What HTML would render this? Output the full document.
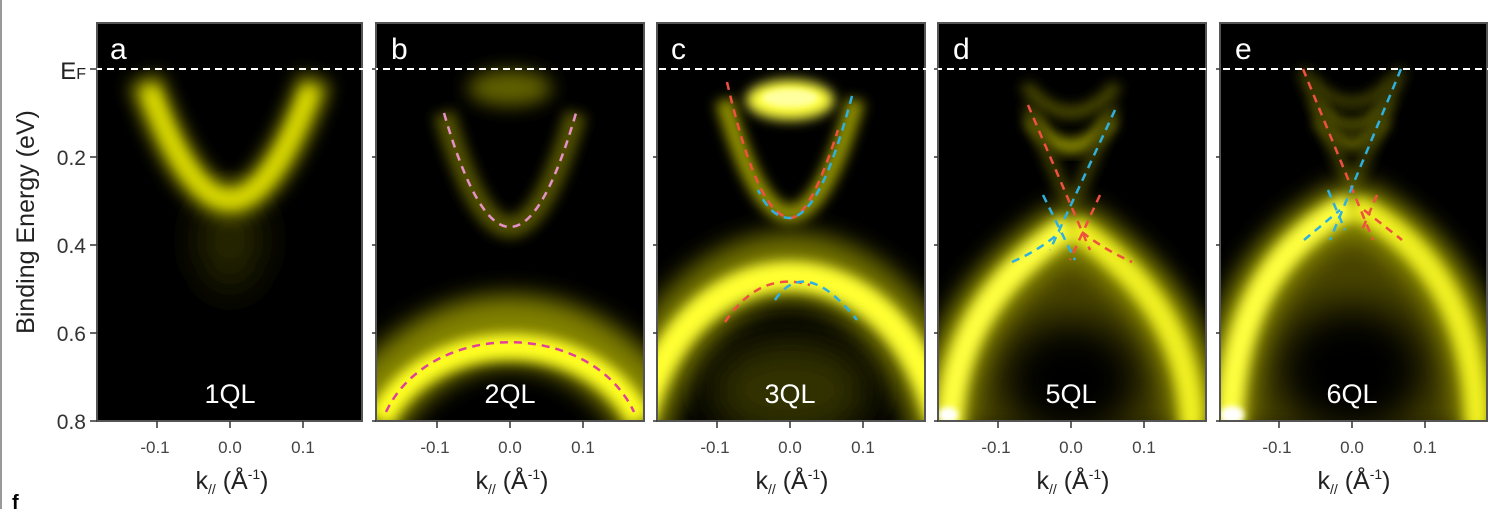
<!DOCTYPE html>
<html><head><meta charset="utf-8"><style>
html,body{margin:0;padding:0;background:#fff;}
svg{display:block;font-family:"Liberation Sans",sans-serif;}
</style></head><body>
<svg width="1497" height="509" viewBox="0 0 1497 509" xmlns="http://www.w3.org/2000/svg">
<defs>
<filter id="b3" x="-50%" y="-50%" width="200%" height="200%"><feGaussianBlur stdDeviation="3"/></filter>
<filter id="b6" x="-50%" y="-50%" width="200%" height="200%"><feGaussianBlur stdDeviation="6"/></filter>
<filter id="b9" x="-50%" y="-50%" width="200%" height="200%"><feGaussianBlur stdDeviation="9"/></filter>
<filter id="b12" x="-50%" y="-50%" width="200%" height="200%"><feGaussianBlur stdDeviation="12"/></filter>
<filter id="b20" x="-50%" y="-50%" width="200%" height="200%"><feGaussianBlur stdDeviation="20"/></filter>
<clipPath id="ca"><rect x="97" y="23" width="265" height="398"/></clipPath>
<clipPath id="cb"><rect x="376" y="23" width="268" height="398"/></clipPath>
<clipPath id="cc"><rect x="657" y="23" width="268" height="398"/></clipPath>
<clipPath id="cd"><rect x="938" y="23" width="268" height="398"/></clipPath>
<clipPath id="ce"><rect x="1220" y="23" width="267" height="398"/></clipPath>
</defs>
<rect width="1497" height="509" fill="#fff"/>
<line x1="1" y1="0" x2="1" y2="509" stroke="#999" stroke-width="2"/>
<text x="12" y="509" font-size="20" font-weight="bold" fill="#000">f</text>

<!-- Panel a -->
<g clip-path="url(#ca)">
<rect x="97" y="23" width="265" height="398" fill="#000"/>
<ellipse cx="230" cy="240" rx="30" ry="50" fill="#2a2a00" filter="url(#b20)"/>
<path d="M145,80 Q230,320 315,80" fill="none" stroke="#b0b000" stroke-width="30" filter="url(#b9)"/>
<path d="M150,90 Q230,310 310,90" fill="none" stroke="#e0e000" stroke-width="12" filter="url(#b6)"/>
</g>
<rect x="97" y="23" width="265" height="398" fill="none" stroke="#555" stroke-width="2"/>

<!-- Panel b -->
<g clip-path="url(#cb)">
<rect x="376" y="23" width="268" height="398" fill="#000"/>
<ellipse cx="510" cy="88" rx="42" ry="18" fill="#606000" filter="url(#b9)"/>
<path d="M444,113 Q510,341 576,113" fill="none" stroke="#505000" stroke-width="22" filter="url(#b6)"/>
<path d="M444,113 Q510,341 576,113" fill="none" stroke="#e890c8" stroke-width="2.5" stroke-dasharray="8,6"/>
<path d="M350,450 C420,290 600,290 670,450" fill="none" stroke="#808000" stroke-width="70" filter="url(#b12)"/>
<path d="M380,420 C430,322 590,322 640,420" fill="none" stroke="#ffff20" stroke-width="26" filter="url(#b6)"/>
<path d="M386,412 C430,319 590,319 634,412" fill="none" stroke="#e0409a" stroke-width="2.5" stroke-dasharray="8,6"/>
</g>
<rect x="376" y="23" width="268" height="398" fill="none" stroke="#555" stroke-width="2"/>

<!-- Panel c -->
<g clip-path="url(#cc)">
<rect x="657" y="23" width="268" height="398" fill="#000"/>
<path d="M724,100 Q790,328 856,100" fill="none" stroke="#909000" stroke-width="18" filter="url(#b6)"/>
<ellipse cx="790" cy="100" rx="44" ry="20" fill="#ffff40" filter="url(#b6)"/>
<ellipse cx="790" cy="98" rx="28" ry="9" fill="#ffffa0" filter="url(#b3)"/>
<path d="M630,440 C690,210 890,210 950,440" fill="none" stroke="#707000" stroke-width="70" filter="url(#b12)"/>
<path d="M640,420 C690,228 890,228 940,420" fill="none" stroke="#ffff30" stroke-width="30" filter="url(#b6)"/>
<ellipse cx="790" cy="390" rx="80" ry="50" fill="#303000" filter="url(#b20)"/>
<path d="M727,82 C745,160 765,215 790,218 C805,218 822,180 838,130" fill="none" stroke="#f05040" stroke-width="2.5" stroke-dasharray="8,6"/>
<path d="M852,96 C835,160 815,215 790,218 C775,218 765,205 758,190" fill="none" stroke="#30b0e0" stroke-width="2.5" stroke-dasharray="8,6"/>
<path d="M725,322 Q760,270 810,285" fill="none" stroke="#f05040" stroke-width="2.5" stroke-dasharray="8,6"/>
<path d="M775,300 Q805,255 857,320" fill="none" stroke="#30b0e0" stroke-width="2.5" stroke-dasharray="8,6"/>
</g>
<rect x="657" y="23" width="268" height="398" fill="none" stroke="#555" stroke-width="2"/>

<!-- Panel d -->
<g clip-path="url(#cd)">
<rect x="938" y="23" width="268" height="398" fill="#000"/>
<path d="M1071,240 C1000,280 940,330 940,430 L1200,430 C1200,330 1140,280 1071,240Z" fill="#4a4500" filter="url(#b12)"/>
<ellipse cx="1071" cy="380" rx="70" ry="60" fill="#000" filter="url(#b20)"/>
<path d="M1025,85 Q1071,140 1117,85" fill="none" stroke="#505000" stroke-width="12" filter="url(#b6)"/>
<path d="M1030,118 Q1071,175 1112,118" fill="none" stroke="#909000" stroke-width="14" filter="url(#b6)"/>
<path d="M1028,105 L1071,210 L1114,105" fill="none" stroke="#404000" stroke-width="12" filter="url(#b6)"/>
<path d="M1071,225 C1020,260 945,320 945,430" fill="none" stroke="#909000" stroke-width="50" filter="url(#b12)"/>
<path d="M1071,225 C1122,260 1197,320 1197,430" fill="none" stroke="#909000" stroke-width="50" filter="url(#b12)"/>
<path d="M1071,225 C1020,260 950,320 950,430" fill="none" stroke="#ffff40" stroke-width="26" filter="url(#b6)"/>
<path d="M1071,225 C1122,260 1192,320 1192,430" fill="none" stroke="#f0f020" stroke-width="24" filter="url(#b6)"/>
<path d="M1028,105 L1090,250" fill="none" stroke="#f05040" stroke-width="2.5" stroke-dasharray="8,6"/>
<path d="M1115,110 L1050,250" fill="none" stroke="#30b0e0" stroke-width="2.5" stroke-dasharray="8,6"/>
<path d="M1043,195 L1075,260" fill="none" stroke="#30b0e0" stroke-width="2.5" stroke-dasharray="8,6"/>
<path d="M1100,195 L1070,260" fill="none" stroke="#f05040" stroke-width="2.5" stroke-dasharray="8,6"/>
<path d="M1012,262 Q1040,250 1060,232" fill="none" stroke="#30b0e0" stroke-width="2.5" stroke-dasharray="8,6"/>
<path d="M1082,232 Q1105,250 1132,262" fill="none" stroke="#f05040" stroke-width="2.5" stroke-dasharray="8,6"/>
<ellipse cx="948" cy="415" rx="10" ry="8" fill="#ffffff" filter="url(#b3)"/>
</g>
<rect x="938" y="23" width="268" height="398" fill="none" stroke="#555" stroke-width="2"/>

<!-- Panel e -->
<g clip-path="url(#ce)">
<rect x="1220" y="23" width="267" height="398" fill="#000"/>
<path d="M1352,215 C1280,250 1222,320 1222,430 L1485,430 C1485,320 1424,250 1352,215Z" fill="#4a4500" filter="url(#b12)"/>
<ellipse cx="1352" cy="370" rx="75" ry="65" fill="#000" filter="url(#b20)"/>
<path d="M1312,80 Q1352,125 1392,80" fill="none" stroke="#505000" stroke-width="9" filter="url(#b6)"/>
<path d="M1315,100 Q1352,150 1389,100" fill="none" stroke="#606000" stroke-width="10" filter="url(#b6)"/>
<path d="M1318,118 Q1352,170 1386,118" fill="none" stroke="#707000" stroke-width="11" filter="url(#b6)"/>
<path d="M1303,69 L1352,190 L1401,69" fill="none" stroke="#404000" stroke-width="12" filter="url(#b6)"/>
<path d="M1352,205 C1290,235 1225,300 1225,430" fill="none" stroke="#909000" stroke-width="50" filter="url(#b12)"/>
<path d="M1352,205 C1414,235 1482,300 1482,430" fill="none" stroke="#909000" stroke-width="50" filter="url(#b12)"/>
<path d="M1352,205 C1290,235 1230,300 1230,430" fill="none" stroke="#ffff40" stroke-width="26" filter="url(#b6)"/>
<path d="M1352,205 C1414,235 1477,300 1477,430" fill="none" stroke="#f0f020" stroke-width="24" filter="url(#b6)"/>
<path d="M1303,69 L1373,240" fill="none" stroke="#f05040" stroke-width="2.5" stroke-dasharray="8,6"/>
<path d="M1401,69 L1330,240" fill="none" stroke="#30b0e0" stroke-width="2.5" stroke-dasharray="8,6"/>
<path d="M1328,190 L1345,230" fill="none" stroke="#30b0e0" stroke-width="2.5" stroke-dasharray="8,6"/>
<path d="M1377,195 L1362,230" fill="none" stroke="#f05040" stroke-width="2.5" stroke-dasharray="8,6"/>
<path d="M1304,240 L1340,210" fill="none" stroke="#30b0e0" stroke-width="2.5" stroke-dasharray="8,6"/>
<path d="M1364,210 L1402,240" fill="none" stroke="#f05040" stroke-width="2.5" stroke-dasharray="8,6"/>
<ellipse cx="1232" cy="415" rx="12" ry="9" fill="#ffffff" filter="url(#b3)"/>
</g>
<rect x="1220" y="23" width="267" height="398" fill="none" stroke="#555" stroke-width="2"/>

<!-- EF dashed line -->
<line x1="95" y1="69" x2="1492" y2="69" stroke="#fff" stroke-width="2" stroke-dasharray="7,5"/>
<line x1="362" y1="69" x2="376" y2="69" stroke="#fff" stroke-width="2"/>

<!-- Panel letters -->
<g fill="#fff" font-size="30">
<text x="110" y="59">a</text><text x="391" y="59">b</text><text x="671" y="59">c</text><text x="953" y="59">d</text><text x="1235" y="59">e</text>
</g>
<g fill="#fff" font-size="27" text-anchor="middle">
<text x="230" y="403">1QL</text><text x="510" y="403">2QL</text><text x="790" y="403">3QL</text><text x="1071" y="403">5QL</text><text x="1352" y="403">6QL</text>
</g>

<!-- Y axis ticks -->
<g stroke="#333" stroke-width="1.5">
<line x1="90" y1="69" x2="97" y2="69"/><line x1="90" y1="157" x2="97" y2="157"/><line x1="90" y1="245" x2="97" y2="245"/><line x1="90" y1="333" x2="97" y2="333"/><line x1="90" y1="421" x2="97" y2="421"/>
<line x1="372" y1="69" x2="376" y2="69"/><line x1="372" y1="157" x2="376" y2="157"/><line x1="372" y1="245" x2="376" y2="245"/><line x1="372" y1="333" x2="376" y2="333"/><line x1="372" y1="421" x2="376" y2="421"/>
<line x1="653" y1="157" x2="657" y2="157"/><line x1="653" y1="245" x2="657" y2="245"/><line x1="653" y1="333" x2="657" y2="333"/><line x1="653" y1="421" x2="657" y2="421"/>
<line x1="934" y1="69" x2="938" y2="69"/><line x1="934" y1="157" x2="938" y2="157"/><line x1="934" y1="245" x2="938" y2="245"/><line x1="934" y1="333" x2="938" y2="333"/><line x1="934" y1="421" x2="938" y2="421"/>
<line x1="1216" y1="69" x2="1220" y2="69"/><line x1="1216" y1="157" x2="1220" y2="157"/><line x1="1216" y1="245" x2="1220" y2="245"/><line x1="1216" y1="333" x2="1220" y2="333"/><line x1="1216" y1="421" x2="1220" y2="421"/>
</g>
<g fill="#333" font-size="21" text-anchor="end">
<text x="86" y="165">0.2</text><text x="86" y="253">0.4</text><text x="86" y="341">0.6</text><text x="86" y="429">0.8</text>
</g>
<text x="86" y="79" text-anchor="end" font-size="24" fill="#222">E<tspan font-size="16">F</tspan></text>
<text transform="translate(34,222) rotate(-90)" text-anchor="middle" font-size="25" fill="#222">Binding Energy (eV)</text>

<!-- X ticks -->
<g stroke="#333" stroke-width="1.5">
<line x1="157" y1="421" x2="157" y2="428"/><line x1="230" y1="421" x2="230" y2="428"/><line x1="303" y1="421" x2="303" y2="428"/>
<line x1="437" y1="421" x2="437" y2="428"/><line x1="510" y1="421" x2="510" y2="428"/><line x1="583" y1="421" x2="583" y2="428"/>
<line x1="717" y1="421" x2="717" y2="428"/><line x1="790" y1="421" x2="790" y2="428"/><line x1="863" y1="421" x2="863" y2="428"/>
<line x1="998" y1="421" x2="998" y2="428"/><line x1="1071" y1="421" x2="1071" y2="428"/><line x1="1144" y1="421" x2="1144" y2="428"/>
<line x1="1279" y1="421" x2="1279" y2="428"/><line x1="1352" y1="421" x2="1352" y2="428"/><line x1="1425" y1="421" x2="1425" y2="428"/>
</g>
<g fill="#444" font-size="17" text-anchor="middle">
<text x="155" y="453">-0.1</text><text x="230" y="453">0.0</text><text x="303" y="453">0.1</text>
<text x="435" y="453">-0.1</text><text x="510" y="453">0.0</text><text x="583" y="453">0.1</text>
<text x="715" y="453">-0.1</text><text x="790" y="453">0.0</text><text x="863" y="453">0.1</text>
<text x="996" y="453">-0.1</text><text x="1071" y="453">0.0</text><text x="1144" y="453">0.1</text>
<text x="1277" y="453">-0.1</text><text x="1352" y="453">0.0</text><text x="1425" y="453">0.1</text>
</g>
<g fill="#222" font-size="25" text-anchor="middle">
<text x="232" y="489">k<tspan font-size="14" dy="5">//</tspan><tspan dy="-5"> (Å</tspan><tspan font-size="14" dy="-10">-1</tspan><tspan dy="10">)</tspan></text>
<text x="512" y="489">k<tspan font-size="14" dy="5">//</tspan><tspan dy="-5"> (Å</tspan><tspan font-size="14" dy="-10">-1</tspan><tspan dy="10">)</tspan></text>
<text x="792" y="489">k<tspan font-size="14" dy="5">//</tspan><tspan dy="-5"> (Å</tspan><tspan font-size="14" dy="-10">-1</tspan><tspan dy="10">)</tspan></text>
<text x="1073" y="489">k<tspan font-size="14" dy="5">//</tspan><tspan dy="-5"> (Å</tspan><tspan font-size="14" dy="-10">-1</tspan><tspan dy="10">)</tspan></text>
<text x="1354" y="489">k<tspan font-size="14" dy="5">//</tspan><tspan dy="-5"> (Å</tspan><tspan font-size="14" dy="-10">-1</tspan><tspan dy="10">)</tspan></text>
</g>
</svg>
</body></html>
